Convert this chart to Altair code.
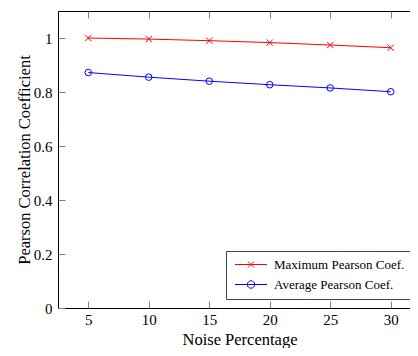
import altair as alt
import pandas as pd

noise = [5, 10, 15, 20, 25, 30]
max_coef = [1.0, 0.996, 0.99, 0.983, 0.974, 0.964]
avg_coef = [0.872, 0.855, 0.84, 0.827, 0.815, 0.801]
series_names = ["Maximum Pearson Coef.", "Average Pearson Coef."]
series_colors = ["#ff0000", "#0000ff"]
x_ticks = [5, 10, 15, 20, 25, 30]
y_ticks = [0, 0.2, 0.4, 0.6, 0.8, 1]

rows = []
for n, v in zip(noise, max_coef):
    rows.append({"noise": n, "value": v, "series": series_names[0]})
for n, v in zip(noise, avg_coef):
    rows.append({"noise": n, "value": v, "series": series_names[1]})
df = pd.DataFrame(rows)

FONT = "Liberation Serif"
xscale = alt.Scale(domain=[2.5, 32.5], nice=False, zero=False)
yscale = alt.Scale(domain=[0, 1.1], nice=False, zero=False)
cscale = alt.Scale(domain=series_names, range=series_colors)
cross = "M-1,-1L1,1M-1,1L1,-1"

# legend symbols: line with marker (small symbol size, path extends to the right)
leg_max = "M-1.125,0L6.875,0M2.125,-0.75L3.625,0.75M2.125,0.75L3.625,-0.75"
leg_avg = "M-1.125,0L6.875,0M3.8,0A0.925,0.925,0,1,1,1.95,0A0.925,0.925,0,1,1,3.8,0"
sscale = alt.Scale(domain=series_names, range=[leg_max, leg_avg])

tick_axis = dict(domain=False, labels=False, ticks=True, tickSize=7, offset=-7,
                 tickColor="#808080", tickWidth=1, title=None, grid=False)

legend_props = dict(title=None, orient="bottom-right", offset=9,
                    padding=7, strokeColor="#444444", fillColor="white",
                    labelFont=FONT, labelFontSize=13, labelColor="black",
                    labelOffset=28, symbolSize=64, symbolStrokeWidth=1,
                    symbolOpacity=1, symbolFillColor="transparent",
                    rowPadding=6, cornerRadius=0)

base = alt.Chart(df)
d_max = base.transform_filter(alt.datum.series == series_names[0])
d_avg = base.transform_filter(alt.datum.series == series_names[1])

line_max = d_max.mark_line(strokeWidth=1, color=series_colors[0]).encode(
    x=alt.X("noise:Q", scale=xscale,
            axis=alt.Axis(orient="bottom", values=x_ticks, ticks=False, tickSize=0,
                          domainColor="black", domainWidth=1, labelPadding=4,
                          labelFont=FONT, labelFontSize=15, labelColor="black",
                          title="Noise Percentage", titleFont=FONT, titleFontSize=16.5,
                          titleFontWeight="normal", titleColor="black", titlePadding=4,
                          grid=False)),
    y=alt.Y("value:Q", scale=yscale,
            axis=alt.Axis(orient="left", values=y_ticks, format="~g", ticks=False, tickSize=0,
                          domainColor="black", domainWidth=1, labelPadding=6,
                          labelFont=FONT, labelFontSize=15, labelColor="black",
                          title="Pearson Correlation Coefficient", titleFont=FONT,
                          titleFontSize=16.5, titleFontWeight="normal", titleColor="black",
                          titlePadding=1, grid=False)),
)

line_avg = d_avg.mark_line(strokeWidth=1, color=series_colors[1]).encode(
    x=alt.X("noise:Q", scale=xscale,
            axis=alt.Axis(orient="top", values=x_ticks, domain=True, domainColor="black",
                          domainWidth=1, ticks=False, labels=False, title=None, grid=False)),
    y=alt.Y("value:Q", scale=yscale, axis=alt.Axis(orient="right", values=y_ticks, **tick_axis)),
)

pts_max = d_max.mark_point(
    filled=False, strokeWidth=1, size=40, opacity=1, shape=cross, color=series_colors[0]
).encode(
    x=alt.X("noise:Q", scale=xscale, axis=alt.Axis(orient="bottom", values=x_ticks, **tick_axis)),
    y=alt.Y("value:Q", scale=yscale, axis=alt.Axis(orient="left", values=y_ticks, **tick_axis)),
)

pts_avg = d_avg.mark_point(
    filled=False, strokeWidth=1, size=43, opacity=1, shape="circle", color=series_colors[1]
).encode(
    x=alt.X("noise:Q", scale=xscale, axis=alt.Axis(orient="top", values=x_ticks, **tick_axis)),
    y=alt.Y("value:Q", scale=yscale, axis=None),
)

legend_layer = base.mark_point(filled=False, strokeWidth=1, opacity=0).encode(
    x=alt.X("noise:Q", scale=xscale, axis=None),
    y=alt.Y("value:Q", scale=yscale, axis=None),
    color=alt.Color("series:N", scale=cscale, legend=alt.Legend(**legend_props)),
    shape=alt.Shape("series:N", scale=sscale, legend=alt.Legend(**legend_props)),
)

chart = alt.layer(line_max, line_avg, pts_max, pts_avg, legend_layer).resolve_axis(
    x="independent", y="independent"
).properties(
    width=363, height=297,
    autosize=alt.AutoSizeParams(type="none"),
    padding={"left": 50, "top": 3, "right": -11, "bottom": 40},
).configure_view(stroke=None)

chart.save("out.html", embed_options={"renderer": "svg", "actions": False})
